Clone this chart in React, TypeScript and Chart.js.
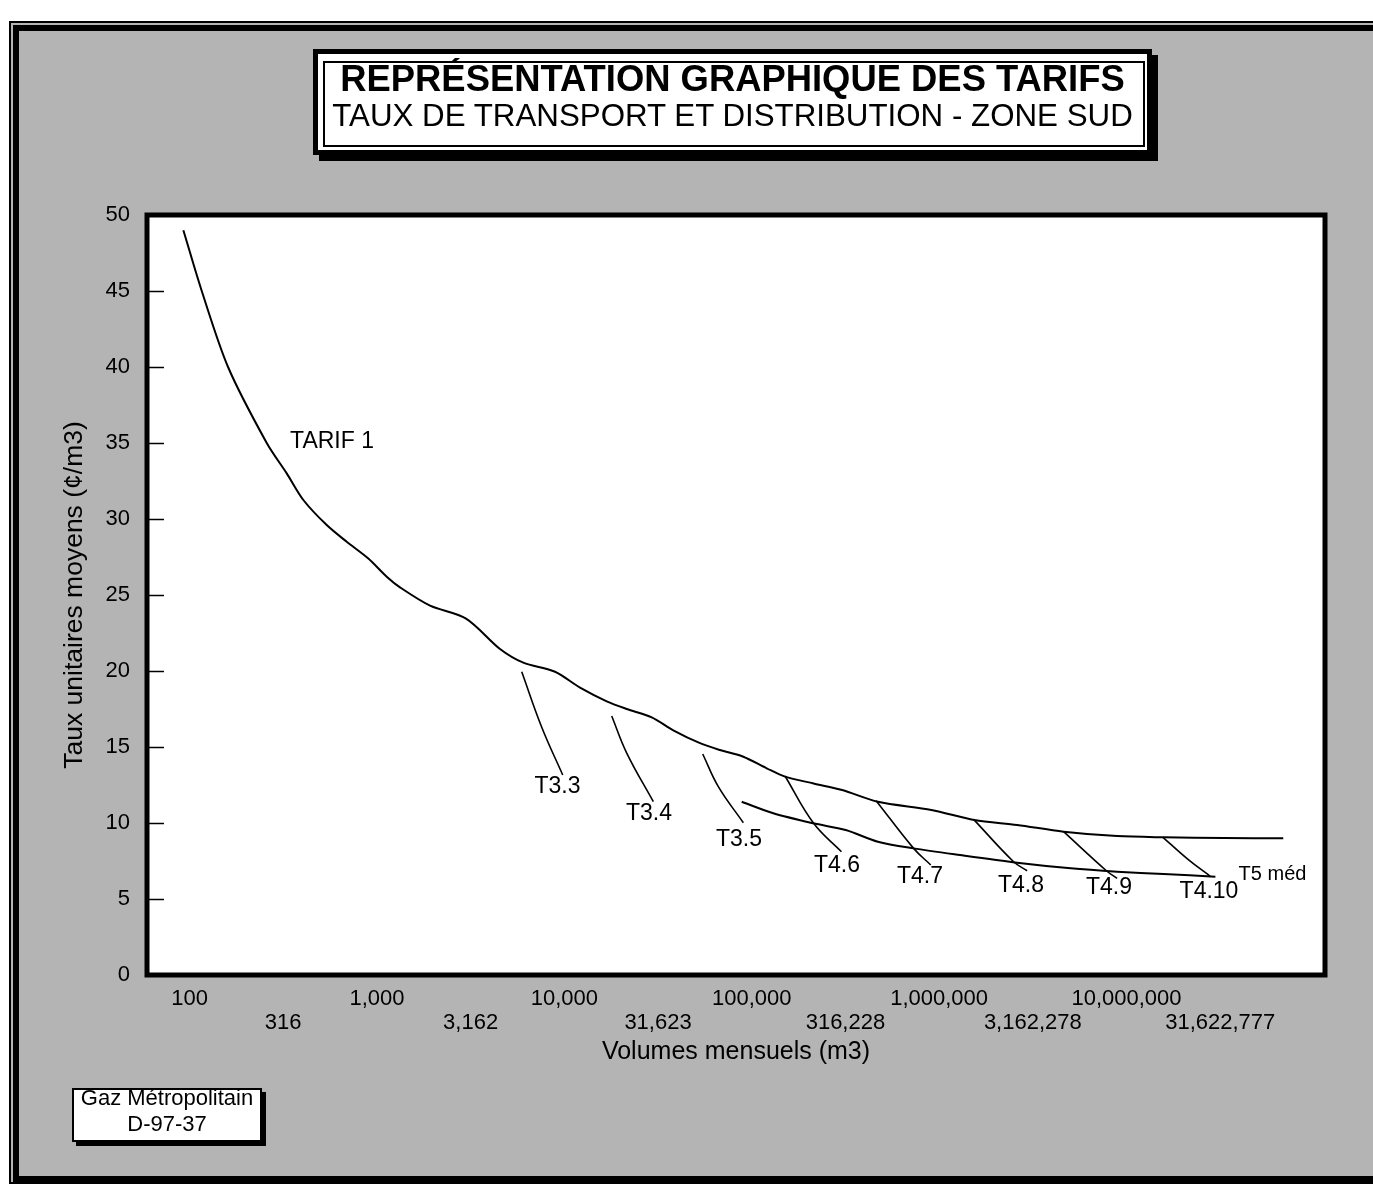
import React, { useEffect, useRef } from 'react';
import { Chart, registerables } from 'chart.js';

Chart.register(...registerables);

// ---------- text ----------
const TITLE_MAIN = 'REPRÉSENTATION GRAPHIQUE DES TARIFS';
const TITLE_SUB = 'TAUX DE TRANSPORT ET DISTRIBUTION - ZONE SUD';
const X_TITLE = 'Volumes mensuels (m3)';
const Y_TITLE = 'Taux unitaires moyens (¢/m3)';
const FOOTER_LINES = ['Gaz Métropolitain', 'D-97-37'];

// ---------- axes ----------
const X_MIN = 59.3;
const X_MAX = 114600000;
const X_TICK_VALUES = [100, 316.2278, 1000, 3162.278, 10000, 31622.78, 100000, 316227.8, 1000000, 3162278, 10000000, 31622777];
const X_TICK_LABELS = ['100', '316', '1,000', '3,162', '10,000', '31,623', '100,000', '316,228', '1,000,000', '3,162,278', '10,000,000', '31,622,777'];
const Y_MIN = 0;
const Y_MAX = 50;
const Y_TICK_VALUES = [0, 5, 10, 15, 20, 25, 30, 35, 40, 45, 50];

// ---------- series ----------
const TARIF1_VOLUMES = [92.7, 116.2, 160.5, 258.2, 330.1, 404.9, 539.7, 690, 899.8, 1128, 1328, 1920, 2989, 4538, 6042, 8922, 12130, 16840, 21530, 29270, 38150, 52990, 67730, 90210, 120200, 150500, 213900, 303700, 471400, 909800, 1541000, 2608000, 4617000, 8910000, 15780000, 33260000, 68600000];
const TARIF1_RATES = [49.0, 45.0, 40.0, 35.0, 33.0, 31.25, 29.6, 28.5, 27.4, 26.2, 25.5, 24.3, 23.45, 21.45, 20.55, 19.95, 18.9, 18.0, 17.5, 16.95, 16.1, 15.25, 14.8, 14.36, 13.6, 13.05, 12.6, 12.17, 11.4, 10.86, 10.2, 9.87, 9.43, 9.14, 9.06, 9.01, 9.0];

const T5_VOLUMES = [88440, 130400, 213200, 317500, 471400, 731000, 1293000, 2608000, 5038000, 8910000, 15780000, 29810000];
const T5_RATES = [11.4, 10.64, 9.98, 9.54, 8.77, 8.33, 7.89, 7.39, 7.02, 6.8, 6.64, 6.47];

const T33_VOLUMES = [5925, 7576, 9806];
const T33_RATES = [19.95, 16.3, 13.16];
const T34_VOLUMES = [17900, 21530, 29850];
const T34_RATES = [17.04, 14.6, 11.4];
const T35_VOLUMES = [54770, 66340, 90210];
const T35_RATES = [14.54, 12.39, 10.02];
const T46_VOLUMES = [150500, 213900, 301100];
const T46_RATES = [13.09, 9.98, 8.11];
const T47_VOLUMES = [461100, 731000, 902100];
const T47_RATES = [11.47, 8.33, 7.24];
const T48_VOLUMES = [1528000, 2498000, 2949000];
const T48_RATES = [10.24, 7.45, 6.86];
const T49_VOLUMES = [4617000, 7810000, 8910000];
const T49_RATES = [9.43, 6.86, 6.36];
const T410_VOLUMES = [15640000, 21450000, 27900000];
const T410_RATES = [9.06, 7.57, 6.51];

// ---------- curve labels (anchored in data space) ----------
const LABEL_TEXTS = ['TARIF 1', 'T3.3', 'T3.4', 'T3.5', 'T4.6', 'T4.7', 'T4.8', 'T4.9', 'T4.10', 'T5 méd'];
const LABEL_VOLUMES = [576, 9198, 28310, 85540, 285300, 790700, 2735000, 8065000, 27550000, 60120000];
const LABEL_RATES = [35.1, 12.37, 10.59, 8.91, 7.17, 6.45, 5.89, 5.72, 5.48, 6.58];

const FONT = '"Liberation Sans", Arial, Helvetica, sans-serif';
const W = 1373;
const H = 1186;
const GRAY = '#b4b4b4';

const toPoints = (xs: number[], ys: number[]) => xs.map((x, i) => ({ x, y: ys[i] }));

const plotArea = {
  id: 'plotArea',
  beforeDatasetsDraw(chart: any) {
    const { ctx, chartArea: a } = chart;
    ctx.save();
    ctx.fillStyle = '#ffffff';
    ctx.fillRect(a.left, a.top, a.right - a.left, a.bottom - a.top);
    ctx.restore();
  },
  afterDatasetsDraw(chart: any) {
    const { ctx, chartArea: a } = chart;
    const ys = chart.scales.y;
    ctx.save();
    // inward tick marks on the value axis
    ctx.strokeStyle = '#000';
    ctx.lineWidth = 1.5;
    ys.ticks.forEach((t: any) => {
      const py = Math.round(ys.getPixelForValue(t.value)) + 0.5;
      ctx.beginPath();
      ctx.moveTo(a.left, py);
      ctx.lineTo(a.left + 17, py);
      ctx.stroke();
    });
    // curve labels
    const xs = chart.scales.x;
    ctx.fillStyle = '#000';
    ctx.textAlign = 'center';
    ctx.textBaseline = 'middle';
    LABEL_TEXTS.forEach((txt, i) => {
      const size = i === LABEL_TEXTS.length - 1 ? 20 : 23;
      ctx.font = `${size}px ${FONT}`;
      ctx.fillText(txt, xs.getPixelForValue(LABEL_VOLUMES[i]), ys.getPixelForValue(LABEL_RATES[i]));
    });
    // plot frame
    ctx.lineWidth = 5;
    ctx.strokeRect(a.left, a.top, a.right - a.left, a.bottom - a.top);
    ctx.restore();
  },
};

export default function App() {
  const ref = useRef<HTMLCanvasElement | null>(null);

  useEffect(() => {
    if (!ref.current) return;
    const line = (pts: any[], width: number, tension: number) => ({
      data: pts,
      borderColor: '#000',
      backgroundColor: '#000',
      borderWidth: width,
      pointRadius: 0,
      tension,
      fill: false,
    });
    const chart = new Chart(ref.current, {
      type: 'line',
      data: {
        datasets: [
          line(toPoints(TARIF1_VOLUMES, TARIF1_RATES), 2, 0.3),
          line(toPoints(T5_VOLUMES, T5_RATES), 2, 0.3),
          line(toPoints(T33_VOLUMES, T33_RATES), 1.6, 0.4),
          line(toPoints(T34_VOLUMES, T34_RATES), 1.6, 0.4),
          line(toPoints(T35_VOLUMES, T35_RATES), 1.6, 0.4),
          line(toPoints(T46_VOLUMES, T46_RATES), 1.6, 0.4),
          line(toPoints(T47_VOLUMES, T47_RATES), 1.6, 0.4),
          line(toPoints(T48_VOLUMES, T48_RATES), 1.6, 0.4),
          line(toPoints(T49_VOLUMES, T49_RATES), 1.6, 0.4),
          line(toPoints(T410_VOLUMES, T410_RATES), 1.6, 0.4),
        ],
      },
      plugins: [plotArea],
      options: {
        responsive: false,
        animation: false,
        devicePixelRatio: 1,
        layout: { padding: { left: 59, top: 215, right: 48, bottom: 119 } },
        plugins: {
          legend: { display: false },
          tooltip: { enabled: false },
          title: { display: false },
        },
        scales: {
          x: {
            type: 'logarithmic',
            min: X_MIN,
            max: X_MAX,
            afterBuildTicks: (s: any) => {
              s.ticks = X_TICK_VALUES.map((v) => ({ value: v }));
            },
            afterFit: (s: any) => {
              s.height = 92;
            },
            grid: { display: false, drawTicks: false },
            border: { display: false },
            ticks: {
              autoSkip: false,
              maxRotation: 0,
              minRotation: 0,
              padding: 12,
              color: '#000',
              font: { family: FONT, size: 22, lineHeight: 1.1 },
              callback: (_v: any, i: number) => (i % 2 === 0 ? X_TICK_LABELS[i] : ['', X_TICK_LABELS[i]]),
            },
            title: {
              display: true,
              text: X_TITLE,
              color: '#000',
              font: { family: FONT, size: 25, lineHeight: 1.2 },
              padding: 0,
            },
          },
          y: {
            type: 'linear',
            min: Y_MIN,
            max: Y_MAX,
            afterBuildTicks: (s: any) => {
              s.ticks = Y_TICK_VALUES.map((v) => ({ value: v }));
            },
            afterFit: (s: any) => {
              s.width = 88;
            },
            grid: { display: false, drawTicks: false },
            border: { display: false },
            ticks: {
              padding: 17,
              color: '#000',
              font: { family: FONT, size: 22 },
              callback: (v: any) => String(v),
            },
            title: {
              display: true,
              text: Y_TITLE,
              color: '#000',
              font: { family: FONT, size: 26.5, lineHeight: 1.2 },
              padding: 0,
            },
          },
        },
      } as any,
    });
    return () => chart.destroy();
  }, []);

  const abs = (s: React.CSSProperties): React.CSSProperties => ({ position: 'absolute', boxSizing: 'border-box', ...s });

  return (
    <div style={abs({ left: 0, top: 0, width: W, height: H, background: '#fff', overflow: 'hidden', fontFamily: FONT, color: '#000' })}>
      <div style={abs({ left: 9, top: 21, width: 1420, height: 1163, border: '2px solid #000', background: GRAY })} />
      <div style={abs({ left: 13, top: 25, width: 1420, height: 1157, border: '6px solid #000' })} />
      <canvas ref={ref} width={W} height={H} style={abs({ left: 0, top: 0, width: W, height: H })} />

      <div style={abs({ left: 313, top: 49, width: 839, height: 106, border: '5px solid #000', background: '#fff', boxShadow: '6px 6px 0 #000' })}>
        <div style={abs({ left: 5, top: 7, right: 2, bottom: 3, border: '2px solid #000' })} />
      </div>
      <div style={abs({ left: 313, top: 61, width: 839, textAlign: 'center', fontSize: 36.4, lineHeight: '36px', fontWeight: 'bold', whiteSpace: 'nowrap' })}>{TITLE_MAIN}</div>
      <div style={abs({ left: 313, top: 100, width: 839, textAlign: 'center', fontSize: 31.3, lineHeight: '31.3px', whiteSpace: 'nowrap' })}>{TITLE_SUB}</div>

      <div style={abs({ left: 72, top: 1088, width: 190, height: 54, border: '2px solid #000', background: '#fff', boxShadow: '4px 4px 0 #000' })} />
      <div style={abs({ left: 72, top: 1086.5, width: 190, textAlign: 'center', fontSize: 22, lineHeight: '22px', whiteSpace: 'nowrap' })}>{FOOTER_LINES[0]}</div>
      <div style={abs({ left: 72, top: 1112.5, width: 190, textAlign: 'center', fontSize: 22, lineHeight: '22px', whiteSpace: 'nowrap' })}>{FOOTER_LINES[1]}</div>
    </div>
  );
}
